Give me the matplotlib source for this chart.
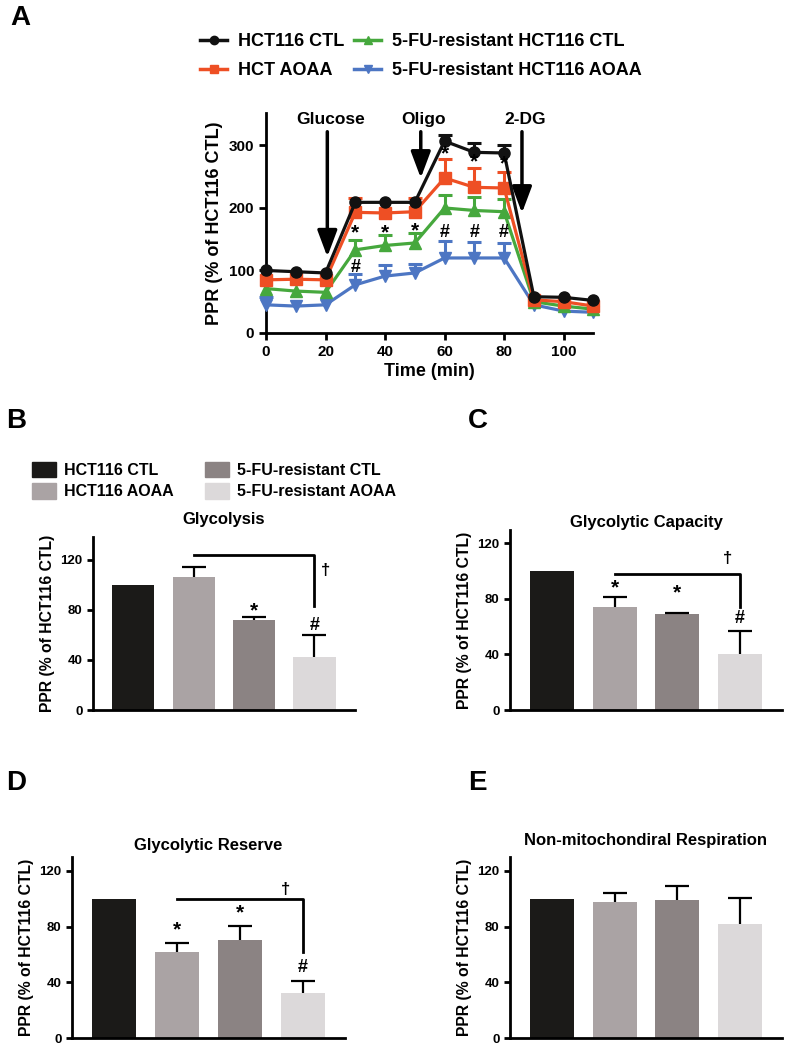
import numpy as np
import matplotlib.pyplot as plt
from matplotlib.lines import Line2D
from matplotlib.patches import Patch

plt.rcParams['font.family'] = ['Liberation Sans', 'DejaVu Sans']
plt.rcParams['font.weight'] = 'bold'
plt.rcParams['axes.labelweight'] = 'bold'
plt.rcParams['axes.linewidth'] = 2

# ---- panel A data (time course) ----
time = [0, 10, 20, 30, 40, 50, 60, 70, 80, 90, 100, 110]
hct_ctl = [100, 98, 96, 209, 209, 209, 307, 289, 288, 58, 57, 52]
hct_ctl_err = [0, 0, 0, 0, 0, 0, 10, 15, 12, 0, 0, 0]
hct_aoaa = [85, 86, 85, 193, 192, 194, 248, 233, 232, 53, 50, 43]
hct_aoaa_err = [0, 0, 0, 23, 0, 22, 31, 31, 26, 0, 0, 0]
res_ctl = [71, 67, 65, 133, 140, 144, 200, 196, 194, 50, 43, 38]
res_ctl_err = [0, 0, 0, 16, 17, 16, 20, 21, 21, 0, 0, 0]
res_aoaa = [45, 43, 45, 77, 91, 96, 120, 120, 120, 45, 35, 33]
res_aoaa_err = [12, 0, 0, 18, 17, 15, 27, 26, 24, 0, 0, 0]

line_labels = ['HCT116 CTL', 'HCT AOAA', '5-FU-resistant HCT116 CTL', '5-FU-resistant HCT116 AOAA']
line_colors = ['#111111', '#ee4f24', '#46a83d', '#4d76c3']
line_markers = ['o', 's', '^', 'v']

# ---- bar panels ----
bar_labels = ['HCT116 CTL', 'HCT116 AOAA', '5-FU-resistant CTL', '5-FU-resistant AOAA']
bar_colors = ['#1b1a18', '#aaa3a4', '#8b8383', '#dcd9da']

glycolysis = [100, 106, 71.5, 42]
glycolysis_err = [0, 8, 2.5, 17.5]
capacity = [100, 74, 69, 40]
capacity_err = [0, 7, 1, 17]
reserve = [100, 62, 70.4, 32.2]
reserve_err = [0, 6, 10, 9]
nonmito = [100, 97.5, 99.4, 82]
nonmito_err = [0, 7, 9.5, 18.6]

fig = plt.figure(figsize=(7.87, 10.5), dpi=100)


def up_errorbar(a, x, y, err, color, lw, cap, z):
    # only the upper half of each error bar is drawn
    x = np.asarray(x, float)
    y = np.asarray(y, float)
    err = np.asarray(err, float)
    keep = err > 0
    eb = a.errorbar(x[keep], y[keep], yerr=[np.zeros(keep.sum()), err[keep]], fmt='none',
                    ecolor=color, elinewidth=lw, capsize=cap, capthick=lw, zorder=z, clip_on=False)
    eb.lines[1][0].set_visible(False)


# ================= A =================
ax = fig.add_axes([0.338, 0.6829, 0.416, 0.2095])
series = [(hct_ctl, hct_ctl_err), (hct_aoaa, hct_aoaa_err), (res_ctl, res_ctl_err), (res_aoaa, res_aoaa_err)]
for i in [3, 2, 1, 0]:
    vals, err = series[i]
    z = 3 + (3 - i)
    up_errorbar(ax, time, vals, err, line_colors[i], 2.2, 5, z)
    ax.plot(time, vals, color=line_colors[i], marker=line_markers[i], markersize=8,
            lw=2.3, clip_on=False, zorder=z)
ax.set_xlim(0, 110)
ax.set_ylim(0, 352)
ax.set_xticks([0, 20, 40, 60, 80, 100])
ax.set_yticks([0, 100, 200, 300])
ax.spines['top'].set_visible(False)
ax.spines['right'].set_visible(False)
ax.tick_params(width=2, length=5, labelsize=11)
ax.set_xlabel('Time (min)', fontsize=13, labelpad=3)
ax.set_ylabel('PPR (% of HCT116 CTL)', fontsize=13, labelpad=4)

# stats marks
for t, y in [(30, 160), (40, 160), (50, 163), (60, 287), (70, 274), (80, 270)]:
    ax.text(t, y, '*', ha='center', va='center', fontsize=15, fontweight='bold', zorder=10)
for t, y in [(30, 104), (60, 161), (70, 161), (80, 161)]:
    ax.text(t, y, '#', ha='center', va='center', fontsize=13, fontweight='bold', zorder=10)

# injection arrows
for name, x, y0, y1 in [('Glucose', 20.6, 322, 122), ('Oligo', 52, 322, 248), ('2-DG', 86, 322, 192)]:
    ax.annotate('', xy=(x, y1), xytext=(x, y0),
                arrowprops=dict(arrowstyle='-|>,head_width=0.3,head_length=0.8',
                                lw=2.5, color='k', mutation_scale=20, shrinkA=0, shrinkB=0),
                annotation_clip=False)
    ax.text(x + 1, 341, name, ha='center', va='center', fontsize=12.5, fontweight='bold')

handles = [Line2D([0], [0], color=c, marker=m, lw=2.5, markersize=6)
           for c, m in zip(line_colors, line_markers)]
fig.legend(handles, line_labels, ncol=2, loc='center', bbox_to_anchor=(0.535, 0.9466),
           frameon=False, fontsize=13, handlelength=1.5, handletextpad=0.6,
           columnspacing=0.55, labelspacing=0.65)


def bar_panel(rect, vals, err, ylim, title, title_gap):
    a = fig.add_axes(rect)
    x = np.arange(len(vals))
    a.bar(x, vals, width=0.7, color=bar_colors)
    up_errorbar(a, x, vals, err, 'black', 1.6, 8.5, 3)
    a.set_xlim(-0.67, 3.67)
    a.set_ylim(0, ylim)
    a.set_yticks([0, 40, 80, 120])
    a.set_xticks([])
    a.spines['top'].set_visible(False)
    a.spines['right'].set_visible(False)
    a.tick_params(width=2, length=4, labelsize=9.5)
    a.set_ylabel('PPR (% of HCT116 CTL)', fontsize=11.3)
    a.set_title(title, fontsize=12, fontweight='bold', pad=title_gap)
    return a


def bracket(a, y, ybot, dag_x, dag_y):
    a.plot([1, 3, 3], [y, y, ybot], color='black', lw=2)
    a.text(dag_x, dag_y, '\u2020', ha='center', va='center', fontsize=12, fontweight='bold')


# ================= B =================
axb = bar_panel([0.118, 0.3238, 0.333, 0.1648], glycolysis, glycolysis_err, 138, 'Glycolysis', 9)
axb.text(2, 79, '*', ha='center', va='center', fontsize=15)
axb.text(3, 67, '#', ha='center', va='center', fontsize=13)
bracket(axb, 124, 83, 3.18, 111)

# ================= C =================
axc = bar_panel([0.648, 0.3238, 0.3456, 0.1714], capacity, capacity_err, 129.5, 'Glycolytic Capacity', 2)
axc.text(1, 88, '*', ha='center', va='center', fontsize=15)
axc.text(2, 84, '*', ha='center', va='center', fontsize=15)
axc.text(3, 66, '#', ha='center', va='center', fontsize=13)
bracket(axc, 98, 74, 2.8, 109)

# ================= D =================
axd = bar_panel([0.0915, 0.0114, 0.347, 0.1724], reserve, reserve_err, 130, 'Glycolytic Reserve', 5)
axd.text(1, 78, '*', ha='center', va='center', fontsize=15)
axd.text(2, 90, '*', ha='center', va='center', fontsize=15)
axd.text(3, 51, '#', ha='center', va='center', fontsize=13)
bracket(axd, 100, 62, 2.72, 107)

# ================= E =================
axe = bar_panel([0.648, 0.0114, 0.3456, 0.1724], nonmito, nonmito_err, 130,
                'Non-mitochondiral Respiration', 9)

bar_handles = [Patch(color=c) for c in bar_colors]
fig.legend(bar_handles, bar_labels, ncol=2, loc='upper left', bbox_to_anchor=(0.022, 0.574),
           frameon=False, fontsize=11.5, handlelength=1.5, handleheight=1.1, handletextpad=0.5,
           columnspacing=2.0, labelspacing=0.35)

# panel letters
for letter, px, py in [('A', 20, 18), ('B', 16, 421), ('C', 478, 421), ('D', 16, 783), ('E', 477, 783)]:
    fig.text(px / 787, 1 - py / 1050, letter, ha='center', va='center', fontsize=20, fontweight='bold')

plt.savefig('out.png', dpi=100)
